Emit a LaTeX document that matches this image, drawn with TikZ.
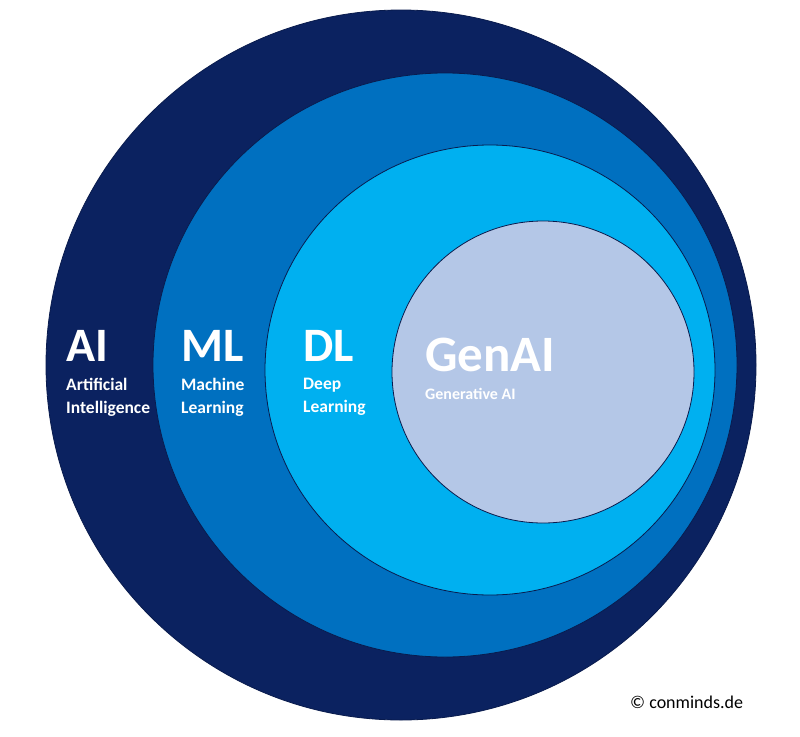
\documentclass[tikz,border=0pt]{standalone}
\usepackage{fontspec}
\setmainfont{Carlito}
\definecolor{cAI}{HTML}{0B2260}
\definecolor{cML}{HTML}{0070C0}
\definecolor{cDL}{HTML}{00B0F0}
\definecolor{cGen}{HTML}{B4C7E7}
\begin{document}
\begin{tikzpicture}[x=1pt,y=-1pt,
  ring/.style={draw=cAI!80!black,line width=0.8pt},
  big/.style={anchor=base west,text=white,font=\fontsize{48}{48}\selectfont\bfseries,inner sep=0},
  small/.style={anchor=north west,text=white,align=left,font=\fontsize{17.5}{23}\selectfont\bfseries,inner sep=0}]
\useasboundingbox[fill=white] (0,0) rectangle (800,736);
\path[ring,fill=cAI] (401,365) circle[radius=355];
\path[ring,fill=cML] (445,365) circle[radius=292];
\path[ring,fill=cDL] (490,370) circle[radius=225];
\path[ring,fill=cGen] (543,372) circle[radius=151];
\node[big] (ai) at (66,361) {AI};
\node[small] (ait) at (66,378) {Artificial\\Intelligence};
\node[big] (ml) at (181,361) {ML};
\node[small] (mlt) at (181,378) {Machine\\Learning};
\node[big] (dl) at (303,361) {DL};
\node[small] (dlt) at (303,378) {Deep\\Learning};
\node[big,font=\fontsize{51}{51}\selectfont\bfseries] (gen) at (425,371) {GenAI};
\node[small,font=\fontsize{16}{16}\selectfont\bfseries] (gent) at (425,388) {Generative AI};
\node[anchor=base west,inner sep=0,font=\fontsize{18}{18}\selectfont] (c) at (630,708) {© conminds.de};
\end{tikzpicture}
\end{document}
